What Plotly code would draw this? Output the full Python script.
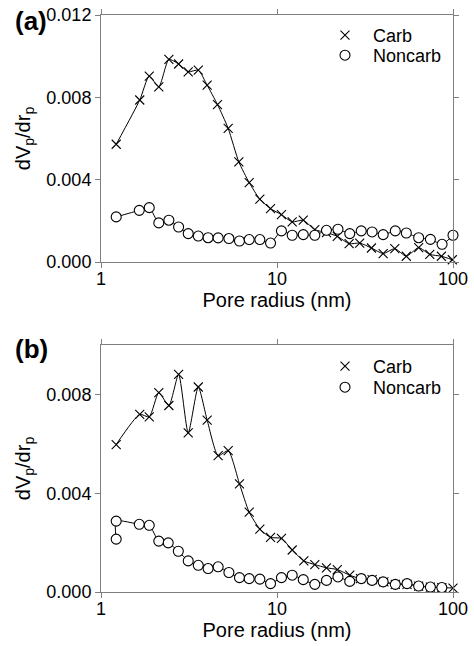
import plotly.graph_objects as go

# ---------------- data ----------------
# panel (a)
a_carb_r = [1.22, 1.66, 1.88, 2.13, 2.43, 2.76, 3.13, 3.57, 4.01, 4.59, 5.28, 6.07, 6.95, 7.99,
            9.19, 10.6, 12.2, 14.1, 16.4, 19.1, 22.0, 25.7, 29.5, 34.4, 40.1, 46.7, 54.3, 63.8,
            73.8, 85.9, 99.1]
a_carb_v = [0.00572, 0.00787, 0.00903, 0.00851, 0.00984, 0.00962, 0.00924, 0.00932, 0.00859,
            0.00765, 0.00649, 0.00486, 0.00386, 0.00305, 0.00259, 0.00230, 0.00195, 0.00203,
            0.00157, 0.00143, 0.00125, 0.00089, 0.00092, 0.00068, 0.00041, 0.00065, 0.00028,
            0.00070, 0.00037, 0.00028, 0.00011]
a_non_r = [1.22, 1.65, 1.88, 2.13, 2.43, 2.76, 3.13, 3.57, 4.06, 4.63, 5.33, 6.12, 6.95, 7.99,
           9.19, 10.6, 12.2, 14.1, 16.4, 19.1, 22.2, 25.9, 30.1, 34.7, 40.1, 47.0, 54.3, 63.8,
           74.4, 86.7, 100.0]
a_non_v = [0.00219, 0.00251, 0.00264, 0.00190, 0.00203, 0.00170, 0.00138, 0.00126, 0.00118,
           0.00117, 0.00114, 0.00102, 0.00109, 0.00109, 0.00092, 0.00151, 0.00130, 0.00133,
           0.00130, 0.00154, 0.00159, 0.00138, 0.00151, 0.00146, 0.00133, 0.00151, 0.00141,
           0.00118, 0.00110, 0.00086, 0.00130]

# panel (b)
b_carb_r = [1.22, 1.66, 1.88, 2.13, 2.43, 2.76, 3.13, 3.57, 4.01, 4.63, 5.28, 6.12, 6.95, 7.99,
            9.19, 10.6, 12.2, 14.2, 16.4, 19.1, 22.0, 25.9, 29.8, 34.7, 40.5, 47.0, 54.8, 63.8,
            74.4, 86.4, 100.0]
b_carb_v = [0.00597, 0.00719, 0.00709, 0.00807, 0.00755, 0.00881, 0.00644, 0.00830, 0.00696,
            0.00552, 0.00572, 0.00438, 0.00323, 0.00255, 0.00221, 0.00217, 0.00170, 0.00126,
            0.00111, 0.00098, 0.00091, 0.00068, 0.00054, 0.00050, 0.00041, 0.00031, 0.00031,
            0.00024, 0.00020, 0.00018, 0.00016]
b_non_r = [1.22, 1.22, 1.65, 1.88, 2.13, 2.41, 2.75, 3.13, 3.57, 4.06, 4.63, 5.33, 6.12, 6.95,
           7.99, 9.19, 10.6, 12.2, 14.1, 16.4, 19.1, 22.2, 25.9, 30.1, 34.7, 40.1, 47.0, 54.8,
           63.8, 74.4, 86.4]
b_non_v = [0.00214, 0.00287, 0.00274, 0.00270, 0.00206, 0.00199, 0.00165, 0.00126, 0.00108,
           0.00095, 0.00102, 0.00079, 0.00058, 0.00054, 0.00052, 0.00034, 0.00058, 0.00068,
           0.00050, 0.00031, 0.00047, 0.00061, 0.00043, 0.00054, 0.00047, 0.00041, 0.00031,
           0.00034, 0.00024, 0.00020, 0.00018]

x_tickvals = [1, 10, 100]
x_ticktext = ["1", "10", "100"]
series_names = ["Carb", "Noncarb"]
panel_labels = ["(a)", "(b)"]

# ---------------- figure ----------------
W, H = 474, 646
FONT = "Liberation Sans, Arial, sans-serif"
AX = "#7f7f7f"

fig = go.Figure()

carb_marker = dict(symbol="x-thin-open", size=9, color="black", line=dict(color="black", width=1.1))
non_marker = dict(symbol="circle", size=10, color="white", line=dict(color="black", width=1.1))
line_style = dict(color="black", width=1, shape="spline", smoothing=0.6)

panels = [
    ("x", "y", ("legend", "legend2"), a_carb_r, a_carb_v, a_non_r, a_non_v),
    ("x2", "y2", ("legend3", "legend4"), b_carb_r, b_carb_v, b_non_r, b_non_v),
]
for xa, ya, lgs, cr, cv, nr, nv in panels:
    fig.add_trace(go.Scatter(x=cr, y=cv, mode="lines+markers", marker=carb_marker, line=line_style,
                             xaxis=xa, yaxis=ya, showlegend=False, cliponaxis=False))
    fig.add_trace(go.Scatter(x=nr, y=nv, mode="lines+markers", marker=non_marker, line=line_style,
                             xaxis=xa, yaxis=ya, showlegend=False, cliponaxis=False))
    # legend-only entries (marker only, as in the reference)
    fig.add_trace(go.Scatter(x=[None], y=[None], mode="markers", marker=carb_marker,
                             name=series_names[0], xaxis=xa, yaxis=ya, legend=lgs[0]))
    fig.add_trace(go.Scatter(x=[None], y=[None], mode="markers", marker=non_marker,
                             name=series_names[1], xaxis=xa, yaxis=ya, legend=lgs[1]))


def px_y(y):
    return 1 - y / H


def px_x(x):
    return x / W


xdom = [px_x(101), px_x(453)]
ydom_a = [px_y(262), px_y(15)]
ydom_b = [px_y(592), px_y(345)]

common_x = dict(type="log", range=[0, 2], tickvals=x_tickvals, ticktext=x_ticktext,
                showline=True, linecolor=AX, linewidth=1, mirror="ticks", ticks="outside",
                ticklen=5, tickcolor=AX, showgrid=False, zeroline=False, automargin=False,
                tickfont=dict(size=18, color="black"), ticklabelstandoff=-5,
                title=dict(text="Pore radius (nm)", font=dict(size=20, color="black"), standoff=4),
                domain=xdom)
common_y = dict(showline=True, linecolor=AX, linewidth=1, mirror="ticks", ticks="outside",
                ticklen=5, tickcolor=AX, showgrid=False, zeroline=False, tickformat=".3f",
                dtick=0.004, tick0=0, tickfont=dict(size=18, color="black"), automargin=False,
                title=dict(text="dV<sub>p</sub>/dr<sub>p</sub>", font=dict(size=20, color="black"),
                           standoff=10))


def leg(top_px):
    return dict(x=px_x(317), y=px_y(top_px), xanchor="left", yanchor="top",
                bgcolor="rgba(0,0,0,0)", font=dict(size=18), itemwidth=46, borderwidth=0)


fig.update_layout(
    template="none",
    width=W, height=H,
    margin=dict(l=0, r=0, t=0, b=0, autoexpand=False),
    paper_bgcolor="white", plot_bgcolor="white",
    font=dict(family=FONT, color="black"),
    xaxis=dict(common_x, anchor="y"),
    yaxis=dict(common_y, range=[0, 0.012], domain=ydom_a, anchor="x"),
    xaxis2=dict(common_x, anchor="y2"),
    yaxis2=dict(common_y, range=[0, 0.010], domain=ydom_b, anchor="x2"),
    legend=leg(35 - 18),
    legend2=leg(55 - 18),
    legend3=leg(366 - 18),
    legend4=leg(387 - 18),
    showlegend=True,
)

for lbl, ypx in zip(panel_labels, [21, 349]):
    fig.add_annotation(text="<b>%s</b>" % lbl, xref="paper", yref="paper", x=px_x(13), y=px_y(ypx),
                       xanchor="left", yanchor="middle", showarrow=False,
                       font=dict(size=26, color="black", family=FONT))

fig.write_html("out.html", config={"displayModeBar": False},
               post_script="document.body.style.margin='0';document.body.style.overflow='hidden';")
